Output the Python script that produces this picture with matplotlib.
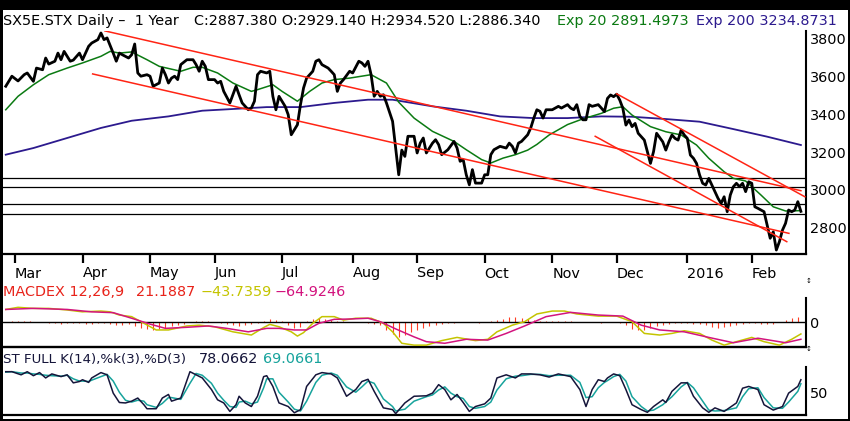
import matplotlib
matplotlib.use('Agg')
import matplotlib.pyplot as plt
from matplotlib.patches import Rectangle
import numpy as np
import pandas as pd

W, H = 850, 421

# trading days on the chart, index 0 = 2015-02-25
dates = pd.bdate_range('2015-02-25', '2016-02-23')
month_labels = ['Mar', 'Apr', 'May', 'Jun', 'Jul', 'Aug', 'Sep', 'Oct', 'Nov', 'Dec', '2016', 'Feb']
months = pd.period_range('2015-03', '2016-02', freq='M')

# close prices (trading-day index, value)
price_day = [0, 2, 4, 6, 7, 9, 10, 12, 13, 14, 16, 17, 18, 19, 21, 22, 24, 25, 26, 27,
             28, 30, 31, 32, 33, 35, 36, 37, 38, 40, 41, 42, 43, 44, 46, 47, 48, 50, 51, 52,
             53, 54, 55, 56, 57, 59, 61, 62, 63, 64, 65, 66, 68, 69, 70, 71, 73, 75, 76, 77,
             79, 80, 81, 82, 83, 85, 86, 87, 88, 89, 91, 92, 93, 95, 96, 97, 98, 100, 101, 102,
             103, 105, 106, 107, 108, 109, 110, 112, 113, 115, 116, 117, 118, 119, 120, 121, 122, 123, 124, 126,
             127, 128, 129, 130, 131, 133, 134, 135, 136, 137, 139, 140, 141, 142, 144, 146, 147, 148, 149, 150,
             151, 152, 153, 155, 156, 157, 158, 159, 161, 163, 164, 165, 166, 167, 168, 170, 171, 172, 173, 174,
             175, 176, 178, 179, 180, 181, 183, 184, 185, 186, 187, 188, 189, 190, 191, 193, 194, 195, 196, 197,
             198, 199, 200, 201, 202, 203, 204, 205, 206, 207, 208, 209, 210, 211, 212, 214, 215, 216, 217, 218,
             219, 220, 221, 222, 223, 224, 225, 226, 227, 228, 229, 230, 232, 233, 234, 235, 236, 237, 238, 239,
             240, 241, 242, 243, 244, 245, 247, 248, 249, 250, 251, 252, 253, 254, 255, 256, 257, 258, 259]
price_close = [3547, 3600, 3575, 3608, 3617, 3573, 3643, 3634, 3696, 3664, 3679, 3722, 3687, 3731, 3679, 3685, 3722, 3687, 3722, 3758,
               3775, 3793, 3828, 3793, 3802, 3722, 3679, 3722, 3713, 3696, 3713, 3770, 3617, 3600, 3608, 3600, 3547, 3564, 3643, 3608,
               3564, 3590, 3600, 3582, 3661, 3687, 3687, 3661, 3626, 3679, 3652, 3582, 3582, 3564, 3573, 3520, 3459, 3547, 3502, 3459,
               3423, 3432, 3468, 3608, 3626, 3617, 3626, 3494, 3423, 3494, 3441, 3397, 3291, 3344, 3450, 3538, 3590, 3626, 3679, 3687,
               3661, 3643, 3626, 3608, 3520, 3564, 3582, 3626, 3617, 3679, 3670, 3652, 3679, 3608, 3494, 3520, 3494, 3502, 3459, 3362,
               3221, 3080, 3210, 3177, 3283, 3283, 3195, 3247, 3274, 3195, 3247, 3265, 3239, 3186, 3212, 3256, 3221, 3151, 3160, 3080,
               3027, 3107, 3036, 3036, 3080, 3080, 3186, 3212, 3230, 3221, 3247, 3230, 3195, 3247, 3256, 3291, 3327, 3379, 3423, 3415,
               3379, 3423, 3423, 3432, 3441, 3432, 3450, 3432, 3423, 3450, 3388, 3370, 3370, 3450, 3441, 3450, 3432, 3413, 3483, 3501,
               3492, 3505, 3474, 3431, 3342, 3369, 3334, 3351, 3299, 3281, 3263, 3202, 3140, 3202, 3299, 3254, 3210, 3254, 3290, 3272,
               3263, 3316, 3290, 3272, 3184, 3167, 3140, 3079, 3035, 3026, 3061, 3026, 2956, 2929, 2964, 2885, 2973, 3017, 3035, 3017,
               3035, 2991, 3043, 3035, 2911, 2903, 2885, 2815, 2745, 2779, 2683, 2727, 2788, 2824, 2894, 2885, 2894, 2938, 2887]

ema20_day = [0, 4, 9, 14, 20, 25, 31, 34, 37, 41, 46, 50, 57, 61, 64, 69, 74, 80, 82, 87,
             90, 95, 99, 103, 107, 112, 119, 124, 128, 133, 139, 146, 150, 155, 158, 162, 166, 170, 173, 177,
             183, 188, 194, 198, 201, 204, 210, 215, 220, 225, 229, 234, 237, 241, 246, 250, 254, 256, 259]
ema20_val = [3423, 3494, 3555, 3608, 3643, 3670, 3705, 3731, 3722, 3728, 3687, 3652, 3626, 3647, 3647, 3617, 3564, 3520, 3529, 3555,
             3520, 3468, 3520, 3564, 3582, 3590, 3608, 3564, 3463, 3379, 3309, 3256, 3212, 3160, 3142, 3168, 3186, 3210, 3240, 3290,
             3345, 3375, 3404, 3431, 3439, 3395, 3334, 3307, 3290, 3237, 3167, 3096, 3061, 3047, 2973, 2911, 2889, 2889, 2891]

ema200_day = [0, 9, 20, 31, 41, 53, 64, 74, 85, 96, 107, 118, 126, 139, 150, 161, 172, 183, 194, 204,
              215, 226, 237, 248, 259]
ema200_val = [3186, 3221, 3274, 3327, 3365, 3388, 3418, 3427, 3437, 3437, 3459, 3476, 3476, 3441, 3418, 3388, 3379, 3379, 3388, 3386,
              3374, 3360, 3321, 3281, 3237]

# drawn trend lines: (start day, start price, end day, end price)
trend_lines = [(32.3, 3839, 259.0, 2996),
               (28.3, 3612, 255.1, 2771),
               (199.0, 3507, 260.3, 2964),
               (192.0, 3283, 254.4, 2727)]
levels = [3061, 3014, 2927, 2871]

macd_day = [0, 4, 9, 14, 20, 25, 31, 34, 37, 41, 45, 49, 53, 59, 63, 68, 74, 80, 84, 86,
            89, 93, 95, 97, 100, 103, 107, 110, 114, 119, 123, 126, 129, 133, 137, 142, 147, 153, 157, 160,
            165, 169, 173, 178, 182, 186, 193, 199, 204, 208, 213, 217, 221, 226, 230, 234, 238, 243, 247, 252,
            256, 259]
macd_val = [48, 56, 52, 52, 46, 39, 42, 39, 27, 21, -4, -29, -29, -14, -11, -17, -36, -48, -20, -8,
            -17, -36, -52, -39, -4, 21, 21, 8, 15, 15, -4, -36, -79, -86, -86, -69, -57, -69, -64, -36,
            -11, 2, 31, 42, 42, 31, 23, 23, 2, -42, -48, -42, -32, -42, -67, -86, -73, -57, -73, -86,
            -64, -44]
signal_day = [0, 9, 20, 28, 35, 41, 47, 52, 59, 66, 72, 79, 85, 89, 94, 98, 102, 107, 112, 118,
              122, 127, 133, 137, 143, 150, 157, 163, 169, 176, 184, 193, 201, 207, 213, 221, 229, 237, 245, 254,
              259]
signal_val = [48, 52, 48, 39, 36, 15, -7, -23, -19, -14, -23, -36, -23, -23, -29, -29, -4, 11, 12, 15,
              2, -25, -55, -73, -79, -64, -67, -42, -14, 21, 37, 27, 23, -11, -29, -36, -57, -77, -60, -77,
              -64]
hist_day = list(range(0, 260, 2))
hist_val = [2, 4, 5, 4, 3, 2, 1,
            -2, -4, -5, -3, -2, -3, -6, -5, -3, -4, -8, -10, -9, -8,
            -14, -20, -26, -28, -25, -20, -15, -10, -6,
            2, 4, 5, 3, 1,
            -4, -8, -12, -14, -12, -8, -3,
            6, 12, 10, 4,
            -10, -22, -18,
            4, 14, 16, 12, 8, 5,
            3, 2, 1, 0, -2, -5,
            -12, -28, -45, -56, -48, -38, -30, -22, -16,
            -12, -6, -4, -2, 1,
            2, 1, -2, 0, 3,
            8, 14, 18, 19, 17, 14, 10, 6,
            5, 6, 5, 4, 3, 2, 1, 0, -1, -2,
            0, -1, -3,
            -12, -24, -30, -28, -22, -16,
            -10, -8, -4, -2, -4, -6, -8,
            -12, -18, -20, -19, -14, -9, -6, -3, -4, -6,
            -8, -5, -1,
            8, 15, 19]

stoch_day = [0, 2, 5, 7, 9, 11, 13, 15, 18, 20, 22, 24, 25, 27, 28, 31, 33, 35, 37, 39,
             41, 43, 45, 46, 49, 51, 53, 54, 57, 60, 62, 64, 67, 69, 71, 73, 75, 76, 78, 80,
             82, 84, 85, 87, 89, 92, 94, 96, 98, 101, 103, 106, 108, 111, 114, 116, 118, 120, 123, 126,
             127, 130, 133, 137, 139, 141, 143, 145, 147, 149, 151, 153, 156, 158, 160, 163, 166, 168, 171, 174,
             177, 180, 184, 187, 189, 191, 193, 195, 196, 198, 200, 202, 204, 207, 209, 211, 214, 215, 217, 220,
             222, 224, 227, 229, 231, 234, 238, 240, 242, 245, 247, 250, 253, 255, 258, 259]
stoch_k = [96, 96, 89, 96, 87, 94, 82, 91, 85, 89, 71, 74, 78, 72, 82, 94, 89, 48, 27, 26,
           30, 37, 22, 13, 13, 37, 45, 30, 37, 96, 89, 82, 56, 33, 26, 7, 22, 41, 26, 18,
           41, 85, 87, 63, 26, 18, 4, 11, 63, 89, 94, 91, 82, 41, 56, 74, 79, 52, 15, 11,
           2, 26, 41, 42, 48, 67, 56, 33, 45, 27, 7, 18, 24, 37, 82, 89, 82, 91, 91, 89,
           84, 91, 85, 56, 18, 56, 78, 74, 82, 91, 87, 56, 22, 11, 5, 18, 33, 27, 52, 71,
           71, 41, 15, 5, 15, 7, 26, 59, 63, 56, 22, 10, 18, 48, 63, 78]
stoch_d = [95, 96, 93, 93, 91, 90, 88, 87, 86, 88, 80, 75, 75, 74, 77, 85, 90, 75, 50, 32,
           28, 32, 30, 22, 16, 25, 38, 38, 34, 70, 92, 88, 70, 48, 32, 18, 16, 28, 30, 24,
           28, 60, 80, 80, 50, 28, 12, 8, 30, 72, 88, 93, 88, 62, 50, 62, 75, 70, 35, 18,
           8, 12, 30, 40, 44, 55, 62, 48, 40, 36, 18, 14, 18, 28, 55, 80, 86, 87, 90, 90,
           87, 88, 88, 72, 38, 40, 60, 72, 76, 85, 90, 75, 40, 18, 8, 10, 22, 28, 40, 62,
           72, 60, 30, 10, 8, 9, 15, 40, 58, 60, 38, 15, 14, 28, 52, 69]

GREEN = '#0b7a12'
NAVY = '#2c1a8e'
RED = '#ff2414'
YEL = '#c4c400'
MAG = '#d3147e'
TEAL = '#17a39c'
DARK = '#15153a'
FS = 10.4

fig = plt.figure(figsize=(W / 100, H / 100), dpi=100)
fig.patch.set_facecolor('white')


def px_axes(left, top, right, bottom):
    return fig.add_axes([left / W, 1 - bottom / H, (right - left) / W, (bottom - top) / H])


def px_text(x, y, s, color='black', size=FS):
    fig.text(x / W, 1 - y / H, s, color=color, fontsize=size, va='baseline', ha='left')


xlim = (-0.9, 260.5)
tick_idx = [dates.searchsorted(m.to_timestamp()) for m in months]

# price panel
ax = px_axes(3, 31, 805.5, 254)
for lv in levels:
    ax.axhline(lv, color='black', lw=0.9, zorder=1)
ax.plot(ema200_day, ema200_val, color=NAVY, lw=1.3, zorder=2)
ax.plot(ema20_day, ema20_val, color=GREEN, lw=1.1, zorder=2)
ax.plot(price_day, price_close, color='black', lw=2.0, zorder=3, solid_joinstyle='round')
for d0, p0, d1, p1 in trend_lines:
    ax.plot([d0, d1], [p0, p1], color=RED, lw=1.1, zorder=4)
ax.set_xlim(*xlim)
ax.set_ylim(2662, 3838.5)
ax.yaxis.tick_right()
ax.set_yticks([2800, 3000, 3200, 3400, 3600, 3800])
ax.tick_params(axis='y', length=0, pad=3, labelsize=FS)
ax.set_xticks(tick_idx)
ax.set_xticklabels(month_labels)
ax.tick_params(axis='x', direction='out', length=6.5, width=1.6, pad=2.5, labelsize=FS)
for lbl in ax.get_xticklabels():
    lbl.set_horizontalalignment('left')
for s in ['top', 'left']:
    ax.spines[s].set_visible(False)
ax.spines['bottom'].set_linewidth(1.6)
ax.spines['right'].set_linewidth(1.5)

# MACD panel
axm = px_axes(3, 298, 805.5, 347)
axm.vlines(hist_day, 0, hist_val, color='#ff3b22', lw=0.8, zorder=1)
axm.axhline(0, color='black', lw=1.0, zorder=2)
axm.plot(macd_day, macd_val, color=YEL, lw=1.1, zorder=3)
axm.plot(signal_day, signal_val, color=MAG, lw=1.1, zorder=3)
axm.set_xlim(*xlim)
axm.set_ylim(-93, 91)
axm.yaxis.tick_right()
axm.set_yticks([0])
axm.set_xticks([])
axm.tick_params(axis='y', length=0, pad=3, labelsize=FS)
for s in ['top', 'left']:
    axm.spines[s].set_visible(False)
axm.spines['bottom'].set_linewidth(1.7)
axm.spines['right'].set_linewidth(1.5)

# stochastic panel
axs = px_axes(3, 367, 805.5, 415)
axs.plot(stoch_day, stoch_d, color=TEAL, lw=1.1, zorder=2)
axs.plot(stoch_day, stoch_k, color=DARK, lw=1.1, zorder=3)
axs.set_xlim(*xlim)
axs.set_ylim(-1, 106.5)
axs.yaxis.tick_right()
axs.set_yticks([50])
axs.set_xticks([])
axs.tick_params(axis='y', length=0, pad=3, labelsize=FS)
for s in ['top', 'left']:
    axs.spines[s].set_visible(False)
axs.spines['bottom'].set_linewidth(1.6)
axs.spines['right'].set_linewidth(1.5)

# header texts
px_text(3.3, 25, 'SX5E.STX Daily \u2013  1 Year')
px_text(194, 25, 'C:2887.380 O:2929.140 H:2934.520 L:2886.340')
px_text(557, 25, 'Exp 20 2891.4973', color=GREEN)
px_text(695.5, 25, 'Exp 200 3234.8731', color=NAVY)

px_text(3.3, 295.5, 'MACDEX 12,26,9', color='#e8231a')
px_text(136, 295.5, '21.1887', color='#e8231a')
px_text(200, 295.5, '\u221243.7359', color=YEL)
px_text(274, 295.5, '\u221264.9246', color=MAG)

px_text(3.3, 363, 'ST FULL K(14),%k(3),%D(3)', color=DARK, size=9.6)
px_text(199.3, 363, '78.0662', color=DARK)
px_text(263.3, 363, '69.0661', color=TEAL)

for yy in (281, 349):
    fig.text(808.3 / W, 1 - yy / H, '\u2195', fontsize=5, ha='center', va='center')

# outer frame
for x0, y0, w, h in [(0, 0, 850, 10), (0, 0, 2.7, 421), (847.5, 0, 2.5, 421), (0, 418.5, 850, 2.5)]:
    fig.add_artist(Rectangle((x0 / W, 1 - (y0 + h) / H), w / W, h / H,
                             transform=fig.transFigure, color='black', lw=0))

fig.savefig('out.png', dpi=100)
